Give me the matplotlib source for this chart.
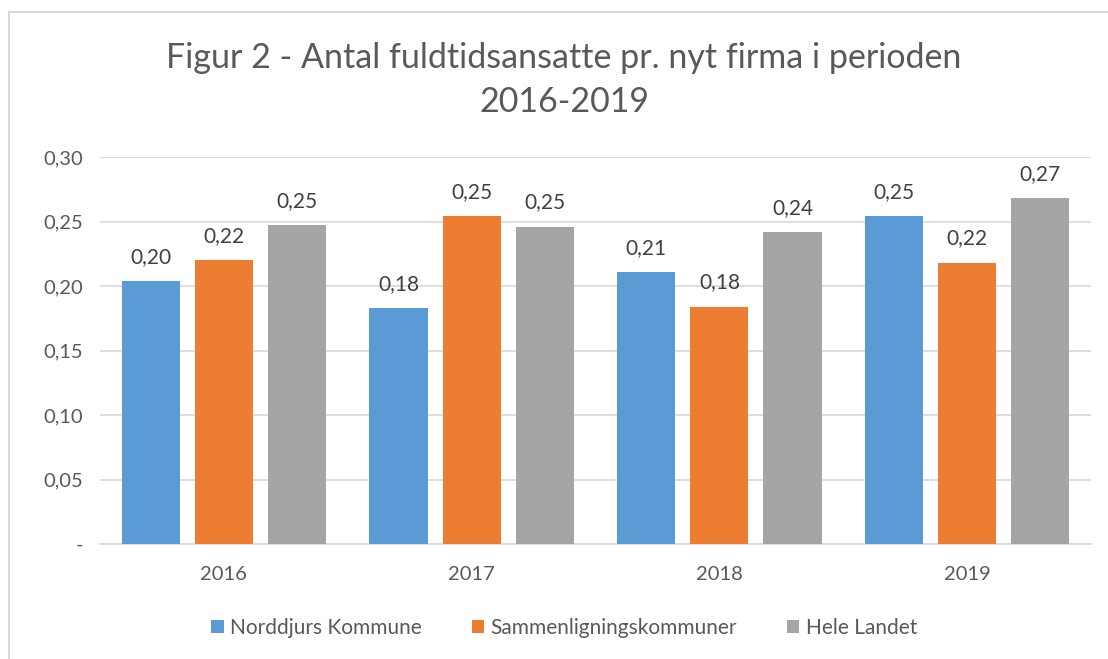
import matplotlib
matplotlib.use("Agg")
import matplotlib.pyplot as plt
from matplotlib.lines import Line2D
from matplotlib.patches import Patch
import numpy as np

years = ["2016", "2017", "2018", "2019"]
series_names = ["Norddjurs Kommune", "Sammenligningskommuner", "Hele Landet"]
norddjurs = [0.204, 0.183, 0.211, 0.254]
sammenlign = [0.220, 0.254, 0.184, 0.218]
hele_landet = [0.247, 0.246, 0.242, 0.268]
yticks = [0.0, 0.05, 0.10, 0.15, 0.20, 0.25, 0.30]
ytick_labels = ["-", "0,05", "0,10", "0,15", "0,20", "0,25", "0,30"]
title = "Figur 2 - Antal fuldtidsansatte pr. nyt firma i perioden\n2016-2019"

colors = ["#5B9BD5", "#ED7D31", "#A5A5A5"]
text_color = "#595959"
grid_color = "#D9D9D9"
plt.rcParams["font.family"] = ["Lato", "DejaVu Sans"]

W, H = 1108, 659
fig = plt.figure(figsize=(W / 100, H / 100), dpi=100)
ax = fig.add_axes([100 / W, 1 - 544 / H, (1091 - 100) / W, (544 - 157) / H])

x = np.arange(len(years))
width = 0.235
step = 0.2955
all_series = [norddjurs, sammenlign, hele_landet]
for i, (vals, c) in enumerate(zip(all_series, colors)):
    pos = x + (i - 1) * step
    bars = ax.bar(pos, vals, width=width, color=c, zorder=3)
    for b, v in zip(bars, vals):
        ax.text(b.get_x() + b.get_width() / 2, v + 0.011, f"{v:.2f}".replace(".", ","),
                ha="center", va="bottom", fontsize=15, color="#404040")

ax.set_xlim(-0.5, len(years) - 0.5)
ax.set_ylim(0, 0.30)
ax.set_yticks(yticks)
ax.set_yticklabels(ytick_labels)
ax.set_xticks(x)
ax.set_xticklabels(years)
ax.tick_params(axis="both", length=0, labelsize=14.5, colors=text_color)
ax.tick_params(axis="y", pad=12)
ax.tick_params(axis="x", pad=16)
ax.yaxis.grid(True, color=grid_color, linewidth=1.2, zorder=0)
for s in ["top", "right", "left"]:
    ax.spines[s].set_visible(False)
ax.spines["bottom"].set_color(grid_color)
ax.spines["bottom"].set_linewidth(1.2)

fig.text(0.5 + 10 / W, 1 - 80 / H, title, ha="center", va="center",
         fontsize=24.5, color=text_color, linespacing=1.45)

handles = [Patch(facecolor=c, edgecolor="none") for c in colors]
fig.legend(handles, series_names, loc="center", bbox_to_anchor=(0.5 + 10 / W, 1 - 628 / H),
           ncol=3, frameon=False, fontsize=15, labelcolor=text_color,
           handlelength=0.6, handleheight=0.6, handletextpad=0.3, columnspacing=2.4)

# chart border
fig.add_artist(Line2D([9 / W, 9 / W], [0, 1 - 12 / H], color="#D9D9D9", linewidth=1.5))
fig.add_artist(Line2D([9 / W, 1], [1 - 12 / H, 1 - 12 / H], color="#D9D9D9", linewidth=1.5))

fig.savefig("out.png", dpi=100, facecolor="white")
